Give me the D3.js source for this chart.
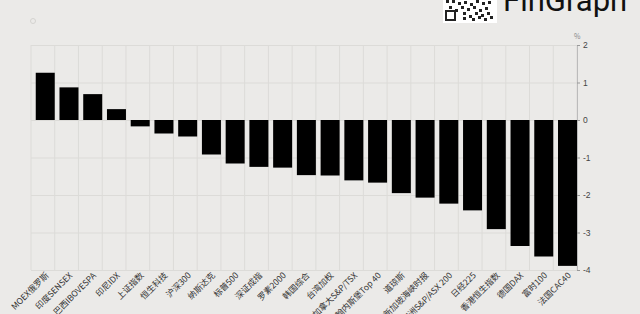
<!DOCTYPE html>
<meta charset="utf-8">
<style>
body { margin: 0; background: #ebeae8; }
svg { display: block; font-family: "Noto Sans CJK SC", "Noto Sans", sans-serif; }
.grid line { stroke: #dcdbd8; stroke-width: 1px; }
.axis text { fill: #444; font-size: 8.5px; }
.xlab { fill: #333; font-size: 8.5px; }
</style>
<body>
<script src="https://cdn.jsdelivr.net/npm/d3@7/dist/d3.min.js"></script>
<script>

var width = 640,
    height = 314;

var names = ["MOEX俄罗斯","印度SENSEX","巴西IBOVESPA","印尼IDX","上证指数","恒生科技","沪深300",
  "纳斯达克","标普500","深证成指","罗素2000","韩国综合","台湾加权","加拿大S&P/TSX",
  "约翰内斯堡Top 40","道琼斯","新加坡海峡时报","澳洲S&P/ASX 200","日经225","香港恒生指数",
  "德国DAX","富时100","法国CAC40"];
var changes = [1.26, 0.87, 0.69, 0.29, -0.17, -0.36, -0.44, -0.92, -1.16, -1.25, -1.27, -1.47,
  -1.48, -1.61, -1.67, -1.95, -2.07, -2.23, -2.41, -2.91, -3.36, -3.64, -3.89];
var yTicks = [2, 1, 0, -1, -2, -3, -4];

var data = names.map(function(n, i) { return {name: n, value: changes[i]}; });

var x = d3.scaleBand()
    .domain(names)
    .range([31, 577])
    .paddingInner(0.2)
    .paddingOuter(0.1);

var y = d3.scaleLinear()
    .domain([-4, 2])
    .range([270, 45]);

var svg = d3.select("body").append("svg")
    .attr("width", width)
    .attr("height", height);

// header: logo bits
var qr = svg.append("g").attr("transform", "translate(443,0)");
qr.append("rect").attr("width", 54).attr("height", 23).attr("fill", "#fff");
var cells = [[3,0],[9,0],[15,2],[21,1],[27,3],[33,0],[39,2],[45,1],[6,6],[12,9],[18,6],[24,8],
  [30,6],[36,9],[42,7],[20,12],[26,15],[32,12],[38,14],[44,12],[20,17],[29,18],[35,16],[41,18],[47,16]];
qr.selectAll(".c").data(cells).enter().append("rect")
    .attr("x", function(d) { return d[0]; })
    .attr("y", function(d) { return d[1]; })
    .attr("width", 3).attr("height", 3).attr("fill", "#222");
qr.append("rect").attr("x", 3).attr("y", 11).attr("width", 9).attr("height", 9)
    .attr("fill", "none").attr("stroke", "#222").attr("stroke-width", 2);

svg.append("text")
    .attr("x", 503).attr("y", 11)
    .attr("font-family", "Roboto, sans-serif")
    .attr("font-size", 31)
    .attr("fill", "#111")
    .text("FinGraph");

svg.append("circle")
    .attr("cx", 33).attr("cy", 21).attr("r", 2.5)
    .attr("fill", "none").attr("stroke", "#d4d3d0");

// grid
var grid = svg.append("g").attr("class", "grid");
var step = x.step();
grid.selectAll(".v").data(names.concat(["end"])).enter().append("line")
    .attr("x1", function(d, i) { return x.range()[0] + i * step; })
    .attr("x2", function(d, i) { return x.range()[0] + i * step; })
    .attr("y1", y(2)).attr("y2", y(-4));
grid.selectAll(".h").data(yTicks).enter().append("line")
    .attr("x1", x.range()[0]).attr("x2", x.range()[1])
    .attr("y1", function(d) { return y(d) + 0.5; })
    .attr("y2", function(d) { return y(d) + 0.5; });

// bars
svg.selectAll(".bar").data(data).enter().append("rect")
    .attr("x", function(d) { return x(d.name) + x.step() * 0.1; })
    .attr("width", x.bandwidth())
    .attr("y", function(d) { return y(Math.max(0, d.value)); })
    .attr("height", function(d) { return Math.abs(y(d.value) - y(0)); })
    .attr("fill", "#000");

// right axis
var axis = svg.append("g")
    .attr("class", "axis")
    .attr("transform", "translate(577,0)")
    .call(d3.axisRight(y).tickValues(yTicks).tickFormat(function(d) { return String(d); })
      .tickSize(3).tickPadding(3));
axis.select(".domain").attr("stroke", "#bbb");
axis.selectAll(".tick line").attr("stroke", "#999");

svg.append("text")
    .attr("x", 574).attr("y", 39)
    .attr("font-size", 7)
    .attr("fill", "#888")
    .text("%");

// category labels
svg.selectAll(".xlab").data(names).enter().append("text")
    .attr("class", "xlab")
    .attr("text-anchor", "end")
    .attr("transform", function(d) {
      return "translate(" + (x(d) + x.step() * 0.1 + x.bandwidth() / 2 + 4) + ",276)rotate(-45)";
    })
    .text(function(d) { return d; });

</script>
